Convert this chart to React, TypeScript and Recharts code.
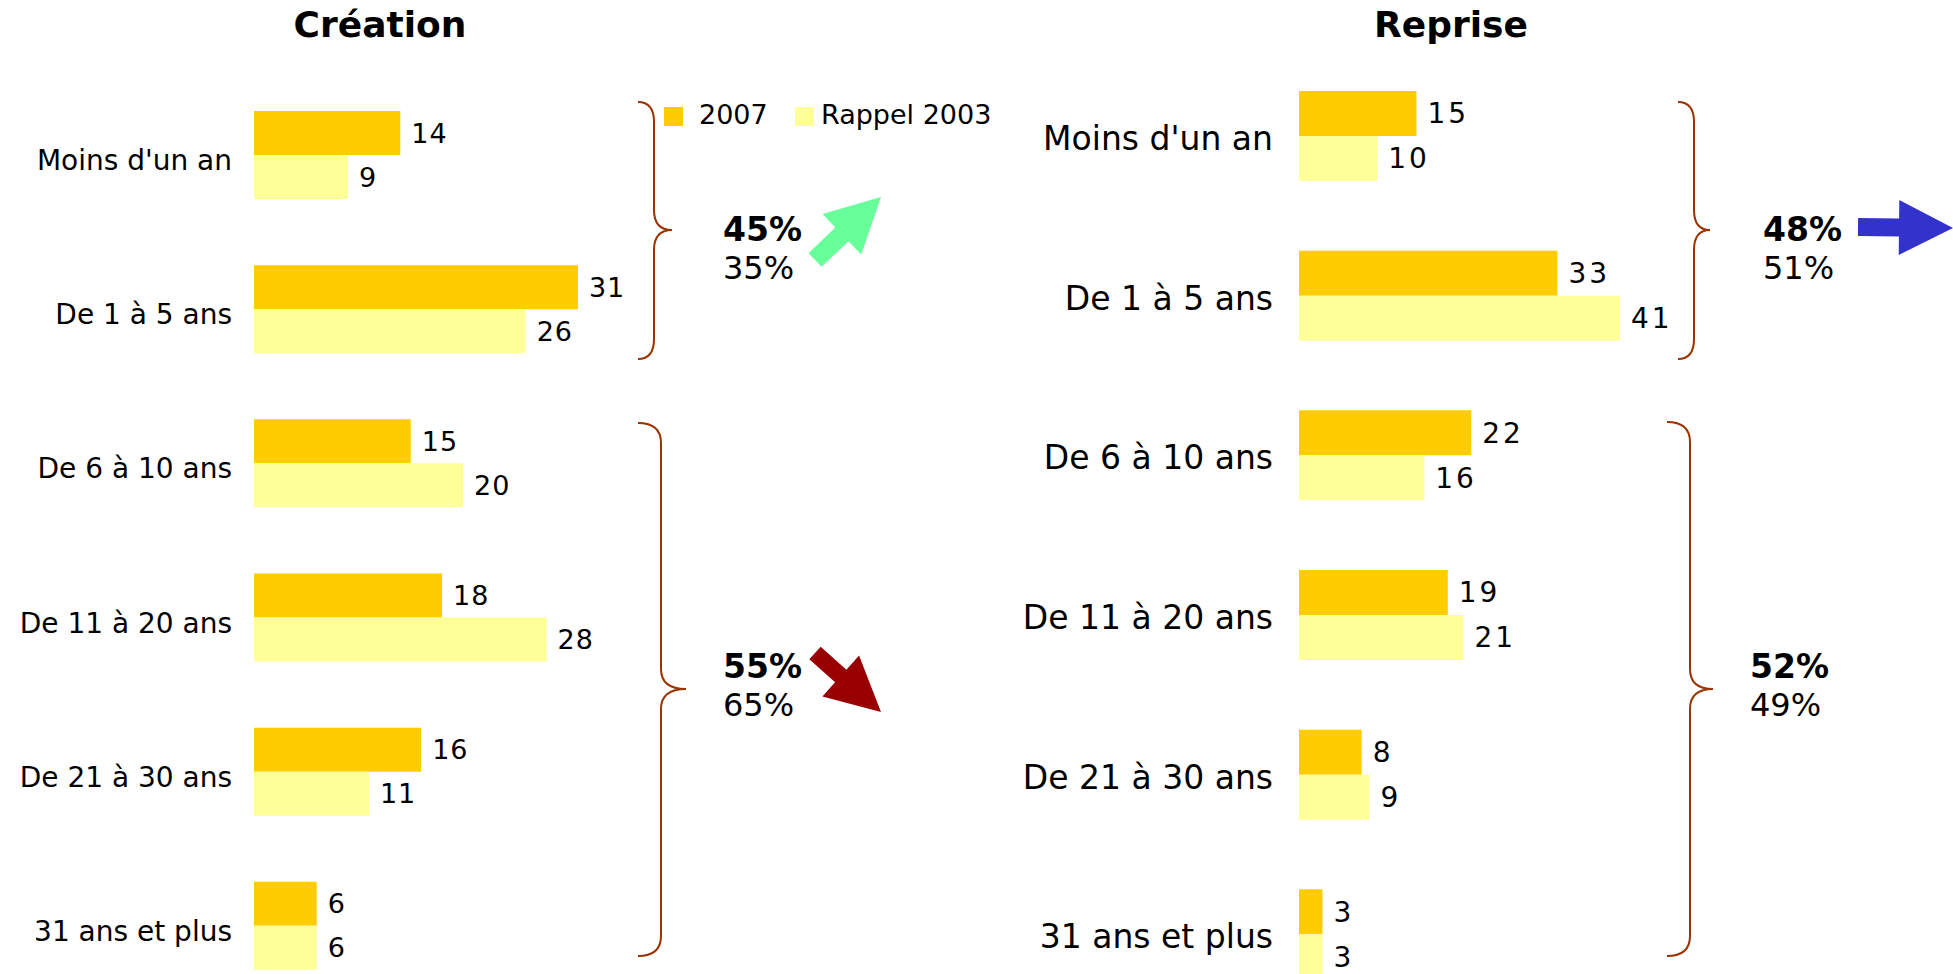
import { BarChart, Bar, XAxis, YAxis, LabelList, Legend } from "recharts";

const categories = [
  "Moins d'un an",
  "De 1 à 5 ans",
  "De 6 à 10 ans",
  "De 11 à 20 ans",
  "De 21 à 30 ans",
  "31 ans et plus",
];
const creation2007 = [14, 31, 15, 18, 16, 6];
const creation2003 = [9, 26, 20, 28, 11, 6];
const reprise2007 = [15, 33, 22, 19, 8, 3];
const reprise2003 = [10, 41, 16, 21, 9, 3];
const seriesNames = ["2007", "Rappel 2003"];
const creationShares2007 = ["45%", "55%"];
const creationShares2003 = ["35%", "65%"];
const repriseShares2007 = ["48%", "52%"];
const repriseShares2003 = ["51%", "49%"];

const COLOR_2007 = "#FFCC00";
const COLOR_2003 = "#FFFF99";
const BRACE = "#993300";
const FONT = '"DejaVu Sans", Verdana, sans-serif';

const creationData = categories.map((c, i) => ({
  cat: c,
  a: creation2007[i],
  b: creation2003[i],
}));
const repriseData = categories.map((c, i) => ({
  cat: c,
  a: reprise2007[i],
  b: reprise2003[i],
}));

function LegendBox(props: any) {
  const xs = [0, 131];
  const textGap = [35, 26];
  return (
    <div style={{ position: "relative", height: 24, width: 340 }}>
      {(props.payload || []).map((p: any, i: number) => (
        <div key={p.value} style={{ position: "absolute", left: xs[i], top: 0 }}>
          <div
            style={{
              position: "absolute",
              left: 0,
              top: 3,
              width: 19,
              height: 19,
              background: p.color,
            }}
          />
          <span
            style={{
              position: "absolute",
              left: textGap[i],
              top: -5,
              fontFamily: FONT,
              fontSize: 27,
              color: "#000",
              whiteSpace: "nowrap",
            }}
          >
            {p.value}
          </span>
        </div>
      ))}
    </div>
  );
}

interface PanelProps {
  data: { cat: string; a: number; b: number }[];
  left: number;
  width: number;
  height: number;
  top: number;
  right: number;
  axisWidth: number;
  tickMargin: number;
  max: number;
  barSize: number;
  labelSize: number;
  labelDy: number;
  valueSize: number;
  spacing: number;
  legend?: boolean;
}

function Panel(p: PanelProps) {
  const valueStyle = {
    fontFamily: FONT,
    fontSize: p.valueSize,
    fill: "#000",
    letterSpacing: p.spacing,
  };
  const renderTick = (t: any) => (
    <text
      x={t.x}
      y={t.y}
      dy={p.labelDy}
      textAnchor="end"
      fill="#000"
      fontSize={p.labelSize}
      fontFamily={FONT}
    >
      {t.payload.value}
    </text>
  );
  return (
    <div style={{ position: "absolute", left: p.left, top: 0 }}>
      <BarChart
        width={p.width}
        height={p.height}
        data={p.data}
        layout="vertical"
        barGap={0}
        margin={{ top: p.top, right: p.right, bottom: 0, left: 0 }}
      >
        <XAxis type="number" hide domain={[0, p.max]} />
        <YAxis
          type="category"
          dataKey="cat"
          width={p.axisWidth}
          axisLine={false}
          tickLine={false}
          tickSize={0}
          tickMargin={p.tickMargin}
          interval={0}
          tick={renderTick}
        />
        {p.legend && (
          <Legend
            layout="horizontal"
            verticalAlign="middle"
            align="center"
            wrapperStyle={{ left: 664, top: 104, width: 340 }}
            content={LegendBox}
          />
        )}
        <Bar dataKey="a" name={seriesNames[0]} fill={COLOR_2007} barSize={p.barSize} isAnimationActive={false}>
          <LabelList dataKey="a" position="right" offset={11} style={valueStyle} />
        </Bar>
        <Bar dataKey="b" name={seriesNames[1]} fill={COLOR_2003} barSize={p.barSize} isAnimationActive={false}>
          <LabelList dataKey="b" position="right" offset={11} style={valueStyle} />
        </Bar>
      </BarChart>
    </div>
  );
}

// curly brace opening to the left, pointing right
function bracePath(x0: number, xs: number, xt: number, y0: number, ym: number, y1: number) {
  const r = 20;
  return [
    `M${x0},${y0}`,
    `Q${xs},${y0} ${xs},${y0 + r}`,
    `L${xs},${ym - r}`,
    `Q${xs},${ym} ${xt},${ym}`,
    `Q${xs},${ym} ${xs},${ym + r}`,
    `L${xs},${y1 - r}`,
    `Q${xs},${y1} ${x0},${y1}`,
  ].join(" ");
}

function arrowPoints(tx: number, ty: number, px: number, py: number, sw: number, hw: number, hl: number) {
  const dx = px - tx;
  const dy = py - ty;
  const len = Math.hypot(dx, dy);
  const ux = dx / len;
  const uy = dy / len;
  const nx = -uy;
  const ny = ux;
  const bx = px - ux * hl;
  const by = py - uy * hl;
  const pts = [
    [tx + nx * sw / 2, ty + ny * sw / 2],
    [bx + nx * sw / 2, by + ny * sw / 2],
    [bx + nx * hw / 2, by + ny * hw / 2],
    [px, py],
    [bx - nx * hw / 2, by - ny * hw / 2],
    [bx - nx * sw / 2, by - ny * sw / 2],
    [tx - nx * sw / 2, ty - ny * sw / 2],
  ];
  return pts.map((q) => q.join(",")).join(" ");
}

const braces = [
  [638, 654, 672, 102, 230, 359],
  [638, 661, 686, 423, 689, 956],
  [1678, 1694, 1710, 102, 230, 359],
  [1667, 1690, 1713, 422, 689, 956],
];

const shareSpots = [
  { x: 723, y: 241, top: creationShares2007[0], bottom: creationShares2003[0] },
  { x: 723, y: 678, top: creationShares2007[1], bottom: creationShares2003[1] },
  { x: 1763, y: 241, top: repriseShares2007[0], bottom: repriseShares2003[0] },
  { x: 1750, y: 678, top: repriseShares2007[1], bottom: repriseShares2003[1] },
];

export default function App() {
  return (
    <div
      style={{
        position: "fixed",
        left: 0,
        top: 0,
        width: 1953,
        height: 974,
        overflow: "hidden",
        background: "#fff",
      }}
    >
      <Panel
        data={creationData}
        left={0}
        width={700}
        height={1003}
        top={78}
        right={28}
        axisWidth={254}
        tickMargin={22}
        max={40}
        barSize={44}
        labelSize={28}
        labelDy={15}
        valueSize={27}
        spacing={1}
        legend
      />
      <Panel
        data={repriseData}
        left={1000}
        width={720}
        height={1014}
        top={56}
        right={29.5}
        axisWidth={299}
        tickMargin={26}
        max={50}
        barSize={45}
        labelSize={33}
        labelDy={14}
        valueSize={28}
        spacing={3}
      />
      <svg
        width={1953}
        height={974}
        style={{ position: "absolute", left: 0, top: 0, pointerEvents: "none" }}
      >
        <text x={380} y={37} textAnchor="middle" fontFamily={FONT} fontWeight="bold" fontSize={36}>
          Création
        </text>
        <text x={1451} y={37} textAnchor="middle" fontFamily={FONT} fontWeight="bold" fontSize={36}>
          Reprise
        </text>
        {braces.map((b, i) => (
          <path
            key={i}
            d={bracePath(b[0], b[1], b[2], b[3], b[4], b[5])}
            fill="none"
            stroke={BRACE}
            strokeWidth={2}
          />
        ))}
        {shareSpots.map((s, i) => (
          <g key={i} fontFamily={FONT}>
            <text x={s.x} y={s.y} fontWeight="bold" fontSize={33}>
              {s.top}
            </text>
            <text x={s.x} y={s.y + 38} fontSize={32}>
              {s.bottom}
            </text>
          </g>
        ))}
        <polygon points={arrowPoints(815, 260, 881, 197, 19, 56, 54)} fill="#66FF99" />
        <polygon points={arrowPoints(815, 653, 881, 712, 17, 55, 54)} fill="#990000" />
        <polygon points={arrowPoints(1858, 227, 1953, 228, 18, 55, 54)} fill="#3333CC" />
      </svg>
    </div>
  );
}
